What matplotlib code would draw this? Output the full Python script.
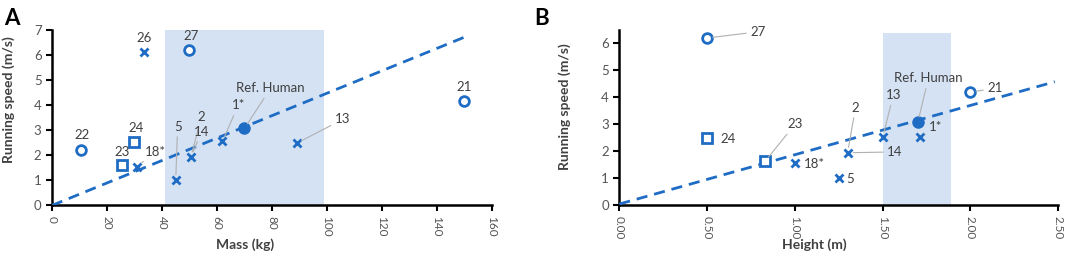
import numpy as np
import matplotlib.pyplot as plt

plt.rcParams['font.family'] = ['Lato', 'DejaVu Sans']

# species labels and data (panel A: mass, panel B: height)
labels_a = ["22", "26", "27", "24", "23", "18*", "5", "2", "14", "1*", "Ref. Human", "13", "21"]
mass_kg = [10.5, 33.5, 50, 30, 25.5, 31, 45, 50.5, 50.5, 62, 70, 89, 150]
speed_a = [2.22, 6.1, 6.2, 2.52, 1.62, 1.55, 1.0, 1.93, 1.93, 2.55, 3.07, 2.48, 4.18]
markers_a = ["o", "x", "o", "s", "s", "x", "x", None, "x", "x", "fill", "x", "o"]

labels_b = ["27", "24", "23", "18*", "5", "2", "14", "13", "1*", "Ref. Human", "21"]
height_m = [0.5, 0.5, 0.83, 1.0, 1.25, 1.3, 1.3, 1.5, 1.71, 1.70, 2.0]
speed_b = [6.2, 2.5, 1.63, 1.58, 1.0, 1.95, 1.95, 2.52, 2.54, 3.08, 4.2]
markers_b = ["o", "s", "s", "x", "x", None, "x", "x", "x", "fill", "o"]

# trend lines (start/end)
trend_a_x = [0, 152]
trend_a_y = [0, 6.8]
trend_b_x = [0, 2.48]
trend_b_y = [0.05, 4.58]

# human range shading
shade_a = [41, 99]
shade_b = [1.5, 1.89]

BLUE = '#1f6cc4'
GREY = '#404040'
LEAD = '#b0b0b0'

# label positions (text placement) and whether a leader is drawn
lab_pos_a = {"22": (10.8, 2.8, False), "26": (33.5, 6.67, False), "27": (50.5, 6.77, False),
             "24": (30.5, 3.1, False), "23": (25.6, 2.14, False), "18*": (37.5, 2.14, True),
             "5": (45.7, 3.14, True), "2": (54.4, 3.54, True), "14": (54.5, 2.94, True),
             "1*": (67.7, 3.99, True), "Ref. Human": (79.5, 4.67, True), "13": (105.7, 3.43, True),
             "21": (150, 4.73, False)}
lab_pos_b = {"27": (0.79, 6.43, True), "24": (0.62, 2.45, False), "23": (1.0, 3.0, True),
             "18*": (1.11, 1.54, False), "5": (1.315, 0.98, False), "2": (1.345, 3.62, True),
             "14": (1.57, 1.98, True), "13": (1.56, 4.08, True), "1*": (1.8, 2.92, True),
             "Ref. Human": (1.76, 4.7, True), "21": (2.14, 4.33, True)}


def draw_points(ax, xs, ys, mks):
    for x, y, m in zip(xs, ys, mks):
        if m is None:
            continue
        if m == "x":
            ax.plot(x, y, 'x', color=BLUE, ms=6, mew=2, zorder=4)
        elif m == "fill":
            ax.plot(x, y, 'o', color=BLUE, ms=8, zorder=4)
        else:
            ax.plot(x, y, m, mfc='white', mec=BLUE, ms=7, mew=2, zorder=4)


def draw_labels(ax, labs, xs, ys, pos):
    for lab, x, y in zip(labs, xs, ys):
        tx, ty, lead = pos[lab]
        if lead:
            ax.annotate(lab, xy=(x, y), xytext=(tx, ty), ha='center', va='center',
                        fontsize=9.5, color=GREY, zorder=5,
                        arrowprops=dict(arrowstyle='-', color=LEAD, lw=0.8,
                                        shrinkA=1, shrinkB=4))
        else:
            ax.text(tx, ty, lab, ha='center', va='center', fontsize=9.5, color=GREY, zorder=5)


def style_axes(ax):
    for s in ['top', 'right']:
        ax.spines[s].set_visible(False)
    for s in ['left', 'bottom']:
        ax.spines[s].set_linewidth(1.8)
    ax.tick_params(axis='both', labelsize=8.5, labelcolor='#555555', width=1.5, length=4)
    ax.tick_params(axis='y', labelsize=9.5)
    ax.tick_params(axis='x', labelrotation=-90)


fig = plt.figure(figsize=(10.65, 2.6), dpi=100)
ax1 = fig.add_axes([0.0488, 0.21, 0.4131, 0.675])
ax2 = fig.add_axes([0.5815, 0.21, 0.4122, 0.675])

# panel A
ax1.axvspan(shade_a[0], shade_a[1], ymin=0, ymax=1, color='#d5e2f4', lw=0, zorder=0)
ax1.plot(trend_a_x, trend_a_y, '--', color=BLUE, lw=2, dashes=(4, 2.5), zorder=3)
draw_points(ax1, mass_kg, speed_a, markers_a)
draw_labels(ax1, labels_a, mass_kg, speed_a, lab_pos_a)
ax1.set_xlim(0, 160)
ax1.set_ylim(0, 7)
ax1.set_xticks(np.arange(0, 161, 20))
ax1.set_yticks(np.arange(0, 8, 1))
style_axes(ax1)
ax1.set_xlabel('Mass (kg)', fontsize=10, fontweight='bold', color=GREY)
ax1.set_ylabel('Running speed (m/s)', fontsize=10, fontweight='bold', color=GREY)
ax1.xaxis.set_label_coords(0.44, -0.19)
ax1.yaxis.set_label_coords(-0.085, 0.6)

# panel B
ax2.fill_between(shade_b, 0, 6.37, color='#d5e2f4', lw=0, zorder=0)
ax2.plot(trend_b_x, trend_b_y, '--', color=BLUE, lw=2, dashes=(4, 2.5), zorder=3)
draw_points(ax2, height_m, speed_b, markers_b)
draw_labels(ax2, labels_b, height_m, speed_b, lab_pos_b)
ax2.set_xlim(0, 2.5)
ax2.set_ylim(0, 6.5)
ax2.set_xticks(np.arange(0, 2.51, 0.5))
ax2.set_xticklabels(['%.2f' % v for v in np.arange(0, 2.51, 0.5)])
ax2.set_yticks(np.arange(0, 7, 1))
style_axes(ax2)
ax2.set_xlabel('Height (m)', fontsize=10, fontweight='bold', color=GREY)
ax2.set_ylabel('Running speed (m/s)', fontsize=10, fontweight='bold', color=GREY)
ax2.xaxis.set_label_coords(0.445, -0.19)
ax2.yaxis.set_label_coords(-0.11, 0.56)

fig.text(0.004, 0.97, 'A', fontsize=16, fontweight='bold', va='top')
fig.text(0.502, 0.97, 'B', fontsize=16, fontweight='bold', va='top')

fig.savefig('out.png', dpi=100)
